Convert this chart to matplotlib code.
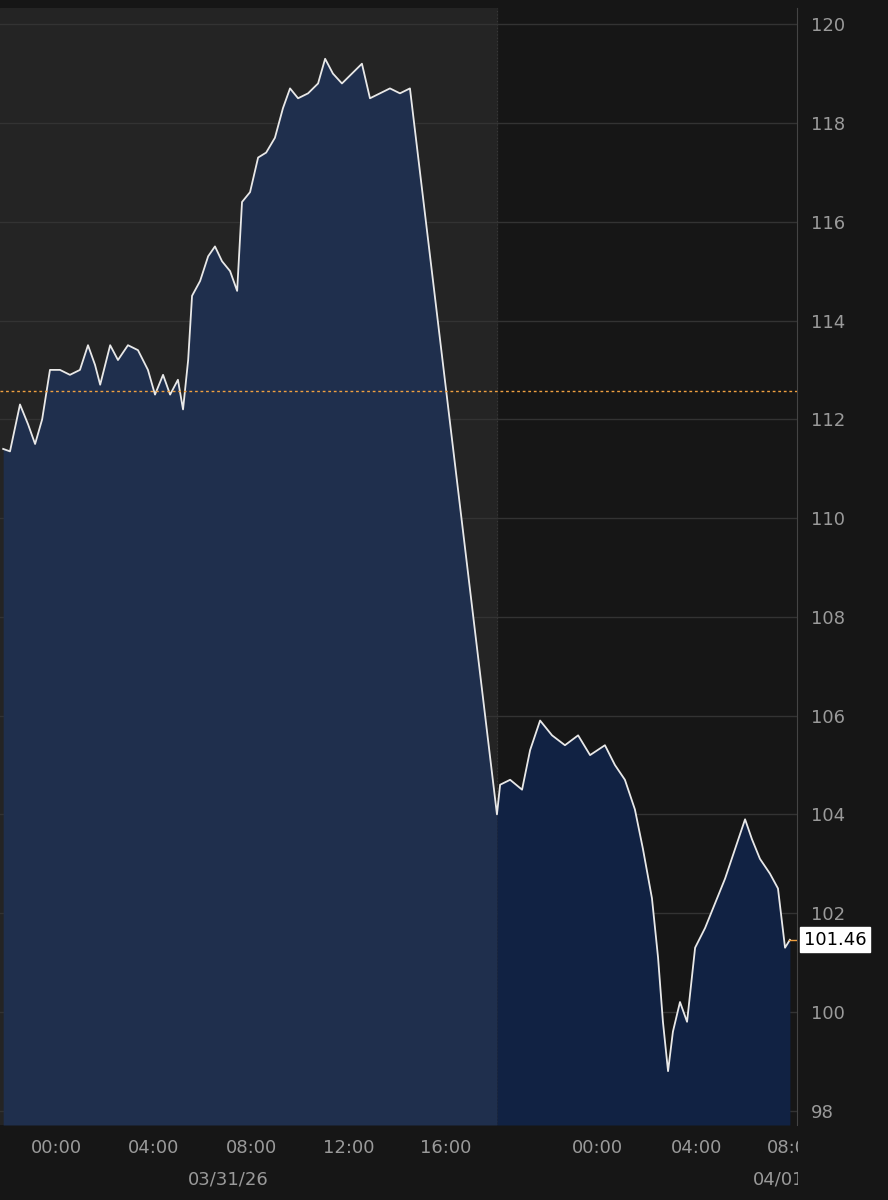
import matplotlib.pyplot as plt
import numpy as np

# hours since 03/31/26 00:00 (overnight gap compressed, as on the chart)
hours = [-2.17, -1.89, -1.48, -1.15, -0.86, -0.57, -0.25, 0.16, 0.57, 0.98, 1.31, 1.6, 1.81,
         2.22, 2.54, 2.95, 3.36, 3.77, 4.06, 4.39, 4.68, 5.0, 5.21, 5.42, 5.58, 5.91, 6.24,
         6.52, 6.81, 7.14, 7.43, 7.63, 7.96, 8.29, 8.62, 8.98, 9.31, 9.6, 9.93, 10.34, 10.75,
         11.04, 11.36, 11.73, 12.14, 12.55, 12.88, 13.29, 13.7, 14.11, 14.52,
         18.09, 18.22, 18.63, 19.12, 19.45, 19.86, 20.35, 20.88, 21.42, 21.91, 22.52, 22.93,
         23.34, 23.75, 24.08, 24.45, 24.7, 24.9, 25.11, 25.31, 25.6, 25.89, 26.22, 26.63,
         27.04, 27.45, 27.86, 28.27, 28.55, 28.88, 29.29, 29.62, 29.91, 30.11]
prices = [111.4, 111.35, 112.3, 111.9, 111.5, 112.0, 113.0, 113.0, 112.9, 113.0, 113.5, 113.1, 112.7,
          113.5, 113.2, 113.5, 113.4, 113.0, 112.5, 112.9, 112.5, 112.8, 112.2, 113.2, 114.5, 114.8, 115.3,
          115.5, 115.2, 115.0, 114.6, 116.4, 116.6, 117.3, 117.4, 117.7, 118.3, 118.7, 118.5, 118.6, 118.8,
          119.3, 119.0, 118.8, 119.0, 119.2, 118.5, 118.6, 118.7, 118.6, 118.7,
          104.0, 104.6, 104.7, 104.5, 105.3, 105.9, 105.6, 105.4, 105.6, 105.2, 105.4, 105.0,
          104.7, 104.1, 103.3, 102.3, 101.1, 99.8, 98.8, 99.6, 100.2, 99.8, 101.3, 101.7,
          102.2, 102.7, 103.3, 103.9, 103.5, 103.1, 102.8, 102.5, 101.3, 101.46]
prev_close = 112.57
last_price = 101.46
session_split = 18.09
tick_pos = [0, 4, 8, 12, 16, 22.2, 26.26, 30.2]
tick_labels = ["00:00", "04:00", "08:00", "12:00", "16:00", "00:00", "04:00", "08:00"]
yticks = [98, 100, 102, 104, 106, 108, 110, 112, 114, 116, 118, 120]

x = np.array(hours)
y = np.array(prices)

fig = plt.figure(figsize=(8.88, 12), dpi=100, facecolor="#161616")
ax = fig.add_axes([0, 0.0625, 0.8975, 0.9305])
ax.set_facecolor("#161616")
xmin, xmax = -2.3, 30.4
ymin, ymax = 97.71, 120.32
ax.set_xlim(xmin, xmax)
ax.set_ylim(ymin, ymax)

ax.axvspan(xmin, session_split, color="#242424", zorder=0)
ax.axvline(session_split, color="#3a3a3a", lw=0.8, ls=(0, (1, 2)), zorder=1)
for v in yticks:
    ax.axhline(v, color="#333333", lw=1, zorder=1)

left = x <= session_split
right = x >= session_split
ax.fill_between(x[left], y[left], ymin, color="#1f2f4d", zorder=2, lw=0)
ax.fill_between(x[right], y[right], ymin, color="#112243", zorder=2, lw=0)
ax.plot(x, y, color="#e8e8e8", lw=1.3, zorder=3)

ax.axhline(prev_close, color="#f0a040", lw=1, ls=(0, (2, 2)), zorder=4)
ax.axhline(last_price, xmin=0.99, color="#f0a040", lw=1, zorder=4)

ax.yaxis.tick_right()
ax.set_yticks(yticks)
ax.set_yticklabels([str(v) for v in yticks])
ax.tick_params(axis="y", colors="#9a9a9a", labelsize=13, length=0, pad=10)
ax.set_xticks(tick_pos)
ax.set_xticklabels(tick_labels)
ax.tick_params(axis="x", colors="#9a9a9a", labelsize=13, length=0, pad=10)
for s in ax.spines.values():
    s.set_visible(False)
ax.spines["right"].set_visible(True)
ax.spines["right"].set_color("#444444")

ax.text(7.05, -0.049, "03/31/26", transform=ax.get_xaxis_transform(), ha="center", va="center",
        color="#9a9a9a", fontsize=13)
ax.text(28.6, -0.049, "04/01/26", transform=ax.get_xaxis_transform(), ha="left", va="center",
        color="#9a9a9a", fontsize=13, clip_on=False)

ax.annotate(f"{last_price:.2f}", xy=(1.0, last_price), xycoords=("axes fraction", "data"),
            xytext=(5, 0), textcoords="offset points", ha="left", va="center",
            color="black", fontsize=13,
            bbox=dict(boxstyle="square,pad=0.2", fc="white", ec="white"))

# cut off the bottom labels at the plot's right edge like the original
cover = fig.add_axes([0.8985, 0, 0.1015, 0.0625])
cover.set_facecolor("#161616")
cover.set_xticks([])
cover.set_yticks([])
for s in cover.spines.values():
    s.set_visible(False)
cover.set_zorder(20)

fig.savefig("out.png", dpi=100, facecolor=fig.get_facecolor())
